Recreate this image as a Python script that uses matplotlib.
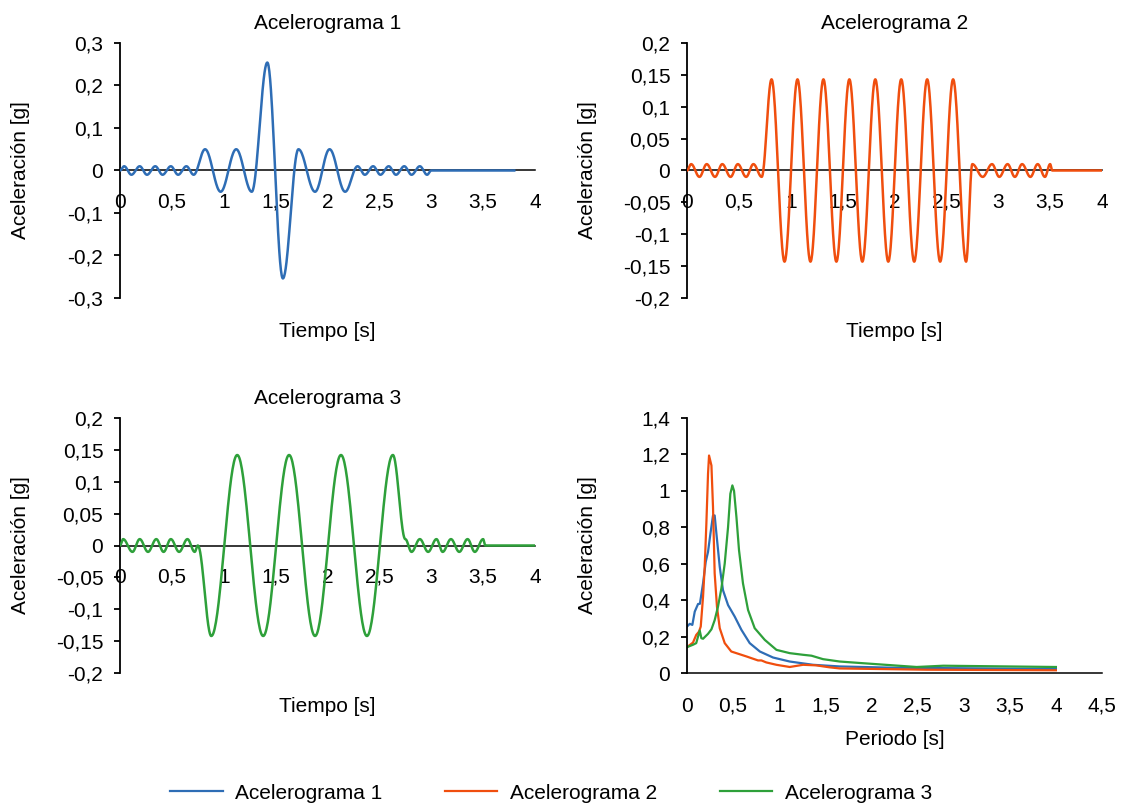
import numpy as np
import matplotlib
matplotlib.use("Agg")
import matplotlib.pyplot as plt
from matplotlib.ticker import MultipleLocator, FuncFormatter

plt.rcParams['font.family'] = ['Liberation Sans', 'DejaVu Sans']

# Colores de las series
c1 = '#2e6db5'
c2 = '#f04e0e'
c3 = '#2ea03a'

# Acelerograma 1: instantes (s) de los extremos y su aceleracion (g)
t1 = [0, 0.04, 0.11, 0.19, 0.26, 0.34, 0.41, 0.49, 0.56, 0.64, 0.71,
      0.82, 0.97, 1.12, 1.27, 1.42, 1.57, 1.72, 1.88, 2.02, 2.17,
      2.29, 2.36, 2.44, 2.51, 2.59, 2.66, 2.74, 2.81, 2.89, 2.96, 3.0, 3.8]
a1 = [0, 0.01, -0.01, 0.01, -0.01, 0.01, -0.01, 0.01, -0.01, 0.01, -0.01,
      0.05, -0.05, 0.05, -0.05, 0.254, -0.254, 0.05, -0.05, 0.05, -0.05,
      0.01, -0.01, 0.01, -0.01, 0.01, -0.01, 0.01, -0.01, 0.01, -0.01, 0, 0]

# Acelerograma 2
t2 = [0, 0.04, 0.12, 0.19, 0.27, 0.34, 0.42, 0.49, 0.57, 0.64, 0.72,
      0.815, 0.94, 1.065, 1.19, 1.315, 1.44, 1.565, 1.69, 1.815, 1.94,
      2.065, 2.19, 2.315, 2.44, 2.565, 2.69,
      2.75, 2.85, 2.94, 3.01, 3.09, 3.16, 3.23, 3.31, 3.38, 3.45, 3.5, 3.52, 4.0]
a2 = [0, 0.01, -0.01, 0.01, -0.01, 0.01, -0.01, 0.01, -0.01, 0.01, -0.01,
      0.143, -0.143, 0.143, -0.143, 0.143, -0.143, 0.143, -0.143, 0.143, -0.143,
      0.143, -0.143, 0.143, -0.143, 0.143, -0.143,
      0.01, -0.01, 0.01, -0.01, 0.01, -0.01, 0.01, -0.01, 0.01, -0.01, 0.01, 0, 0]

# Acelerograma 3
t3 = [0, 0.03, 0.12, 0.19, 0.27, 0.35, 0.42, 0.49, 0.57, 0.65, 0.72, 0.75,
      0.88, 1.13, 1.38, 1.63, 1.88, 2.13, 2.38, 2.63,
      2.75, 2.81, 2.89, 2.97, 3.05, 3.11, 3.19, 3.27, 3.35, 3.42, 3.5, 3.52, 4.0]
a3 = [0, 0.01, -0.01, 0.01, -0.01, 0.01, -0.01, 0.01, -0.01, 0.01, -0.01, 0,
      -0.142, 0.142, -0.142, 0.142, -0.142, 0.142, -0.142, 0.142,
      0.01, -0.01, 0.01, -0.01, 0.01, -0.01, 0.01, -0.01, 0.01, -0.01, 0.01, 0, 0]

# Espectros de respuesta: periodo (s) y aceleracion (g)
T_esp1 = [0, 0.03, 0.058, 0.084, 0.12, 0.14, 0.174, 0.203, 0.228, 0.254, 0.282, 0.30,
          0.319, 0.355, 0.39, 0.445, 0.517, 0.59, 0.68, 0.79, 0.933, 1.114, 1.367,
          1.656, 2.23, 4.0]
Sa_esp1 = [0.255, 0.27, 0.264, 0.337, 0.379, 0.38, 0.492, 0.61, 0.665, 0.765, 0.865, 0.865,
           0.765, 0.583, 0.455, 0.373, 0.31, 0.237, 0.164, 0.118, 0.085, 0.063, 0.045,
           0.036, 0.029, 0.022]

T_esp2 = [0, 0.065, 0.10, 0.13, 0.149, 0.174, 0.192, 0.21, 0.228, 0.239, 0.265, 0.282,
          0.30, 0.325, 0.355, 0.409, 0.48, 0.644, 0.77, 0.807, 0.86, 0.97, 1.114,
          1.258, 1.40, 1.548, 1.656, 2.6, 4.0]
Sa_esp2 = [0.142, 0.167, 0.209, 0.227, 0.255, 0.419, 0.583, 0.82, 1.094, 1.194, 1.139, 0.911,
           0.547, 0.364, 0.246, 0.164, 0.118, 0.091, 0.069, 0.069, 0.058, 0.045, 0.033,
           0.045, 0.042, 0.031, 0.025, 0.018, 0.015]

T_esp3 = [0, 0.065, 0.1, 0.138, 0.156, 0.174, 0.228, 0.265, 0.30, 0.336, 0.373, 0.409,
          0.445, 0.47, 0.492, 0.51, 0.536, 0.564, 0.607, 0.662, 0.734, 0.843, 0.97,
          1.114, 1.258, 1.35, 1.475, 1.656, 1.873, 2.49, 2.78, 4.0]
Sa_esp3 = [0.142, 0.155, 0.164, 0.233, 0.191, 0.188, 0.215, 0.24, 0.29, 0.364, 0.465, 0.601,
           0.80, 0.984, 1.03, 1.0, 0.856, 0.674, 0.492, 0.346, 0.246, 0.182, 0.127,
           0.109, 0.10, 0.095, 0.076, 0.063, 0.055, 0.033, 0.04, 0.033]


def trazo(t, a, n=40):
    # une cada par de extremos con media onda coseno
    ts, ys = [], []
    for t0, t1_, a0, a1_ in zip(t[:-1], t[1:], a[:-1], a[1:]):
        s = np.linspace(0, 1, n)
        ts.append(t0 + (t1_ - t0) * s)
        ys.append(a0 + (a1_ - a0) * (1 - np.cos(np.pi * s)) / 2)
    return np.concatenate(ts), np.concatenate(ys)


# etiquetas con coma decimal
coma = FuncFormatter(lambda v, p: ('%g' % round(v, 4)).replace('.', ',') if abs(v) > 1e-9 else '0')

fig = plt.figure(figsize=(11.25, 8.05), dpi=100)
izq, der = 120 / 1125, 687 / 1125
ancho = 415 / 1125
arriba = [1 - 298 / 805, 1 - 673 / 805]
alto = 255 / 805

ax1 = fig.add_axes([izq, arriba[0], ancho, alto])
ax2 = fig.add_axes([der, arriba[0], ancho, alto])
ax3 = fig.add_axes([izq, arriba[1], ancho, alto])
ax4 = fig.add_axes([der, arriba[1], ancho, alto])

fs = 15
for ax in (ax1, ax2, ax3, ax4):
    for s in ('top', 'right'):
        ax.spines[s].set_visible(False)
    ax.spines['left'].set_linewidth(1.3)
    ax.spines['bottom'].set_linewidth(1.1)
    ax.tick_params(axis='y', direction='out', length=4, width=1.3, pad=8, labelsize=fs)
    ax.tick_params(axis='x', length=0, labelsize=fs)
    ax.xaxis.set_major_formatter(coma)
    ax.yaxis.set_major_formatter(coma)
    ax.set_ylabel('Aceleración [g]', fontsize=fs)
    ax.yaxis.set_label_coords(-0.24, 0.5)
    ax.yaxis.label.set_va('center')

series = [(ax1, t1, a1, c1, 'Acelerograma 1', 0.3, 0.1),
          (ax2, t2, a2, c2, 'Acelerograma 2', 0.2, 0.05),
          (ax3, t3, a3, c3, 'Acelerograma 3', 0.2, 0.05)]
for ax, t, a, c, nombre, lim, paso in series:
    x, y = trazo(t, a)
    ax.plot(x, y, color=c, lw=1.8, zorder=3)
    ax.set_xlim(0, 4)
    ax.set_ylim(-lim, lim)
    ax.spines['bottom'].set_position(('data', 0))
    ax.xaxis.set_major_locator(MultipleLocator(0.5))
    ax.yaxis.set_major_locator(MultipleLocator(paso))
    ax.tick_params(axis='x', pad=16)
    ax.set_title(nombre, fontsize=fs, pad=10)
    ax.set_xlabel('Tiempo [s]', fontsize=fs)
    ax.xaxis.set_label_coords(0.5, -0.13)
    ax.xaxis.label.set_va('center')

ax4.plot(T_esp1, Sa_esp1, color=c1, lw=1.6, label='Acelerograma 1')
ax4.plot(T_esp2, Sa_esp2, color=c2, lw=1.6, label='Acelerograma 2')
ax4.plot(T_esp3, Sa_esp3, color=c3, lw=1.6, label='Acelerograma 3')
ax4.set_xlim(0, 4.5)
ax4.set_ylim(0, 1.4)
ax4.xaxis.set_major_locator(MultipleLocator(0.5))
ax4.yaxis.set_major_locator(MultipleLocator(0.2))
ax4.tick_params(axis='x', pad=17)
ax4.set_xlabel('Periodo [s]', fontsize=fs)
ax4.xaxis.set_label_coords(0.5, -0.26)
ax4.xaxis.label.set_va('center')

fig.legend(loc='center', bbox_to_anchor=(0.49, 1 - 793 / 805), ncol=3, frameon=False,
           fontsize=fs, handlelength=2.5, handletextpad=0.62, columnspacing=3.0)

fig.savefig('out.png', dpi=100)
